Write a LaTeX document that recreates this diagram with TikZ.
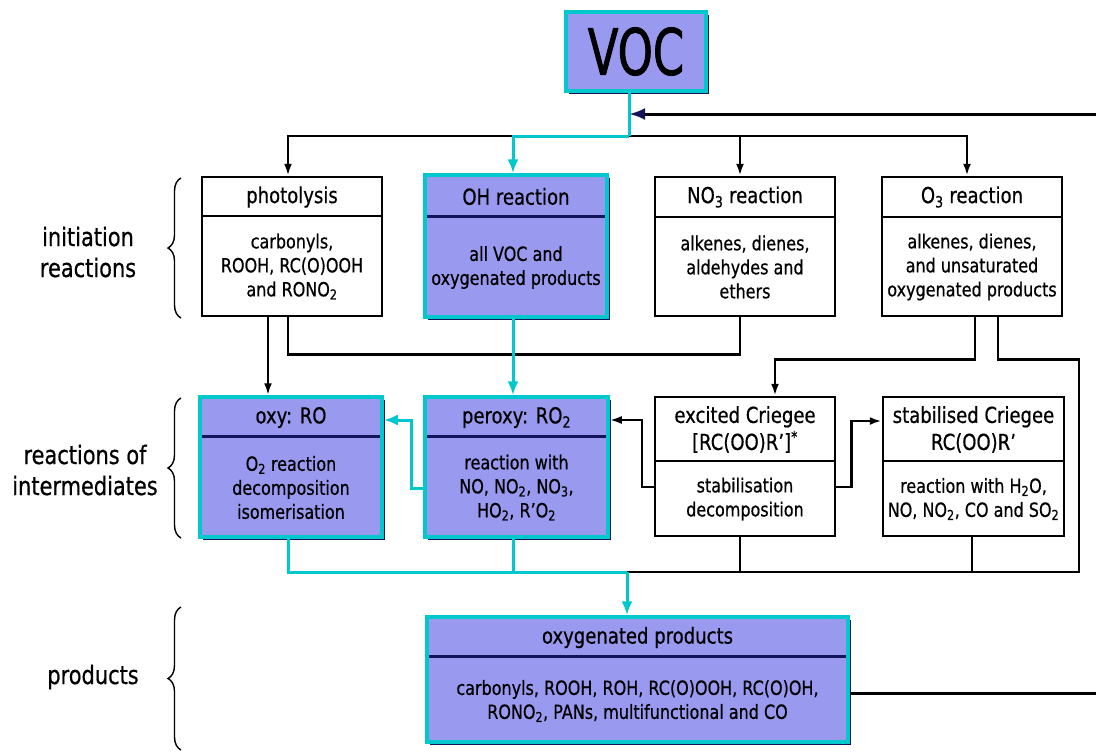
\documentclass[tikz,border=0pt]{standalone}
\usepackage{fontspec}
\setmainfont{DejaVu Sans}[FakeStretch=0.82, FakeBold=0.6]
\newfontfamily\vocfont{DejaVu Sans}[FakeStretch=0.7, FakeBold=1.2]
\usetikzlibrary{arrows.meta, decorations.pathreplacing, shadows}

\definecolor{lav}{RGB}{153,153,240}
\definecolor{turq}{RGB}{0,200,205}
\definecolor{navy}{RGB}{20,20,90}

\begin{document}
\begin{tikzpicture}[%
        x = 1pt, y = -1pt,
        > = {Latex[length=12pt, width=8pt]},
        line width = 2.5pt,
        plainbox/.style = {draw, fill=white, line width=2.5pt, inner sep=0pt},
        colbox/.style = {draw=turq, fill=lav, line width=3.5pt, inner sep=0pt,
            drop shadow={shadow xshift=2.5pt, shadow yshift=-2.5pt, fill=navy, opacity=1}},
        boxhead/.style = {font=\fontsize{22}{27}\selectfont, align=center, inner sep=0pt},
        boxbody/.style = {font=\fontsize{19.5}{24}\selectfont, align=center, inner sep=0pt},
        sidelabel/.style = {font=\fontsize{25.5}{31}\selectfont, align=center},
        tealline/.style = {draw=turq, line width=3pt},
        tealarrow/.style = {-{Latex[length=14pt, width=11pt]}},
        divide/.style = {draw=navy, line width=3.5pt},
        bracket/.style = {decorate, decoration={brace, amplitude=13pt}, line width=1.4pt}
    ]

    \useasboundingbox (0,0) rectangle (1096,755);
    \clip (0,0) rectangle (1096,755);

    % The VOC box on top.
    \node[colbox, minimum width=140pt, minimum height=79pt,
        font=\vocfont\fontsize{64}{64}\selectfont] (voc) at (636,51.5) {VOC};

    % Initiation reactions.
    \node[plainbox, minimum width=180pt, minimum height=139pt] (phot) at (292,246.5) {};
    \node[boxhead] (phot-t) at (292,197) {photolysis};
    \node[boxbody] (phot-b) at (292,266.5) {carbonyls,\\ROOH, RC(O)OOH\\and RONO\textsubscript{2}};
    \draw ([yshift=-40pt]phot.north west) -- ([yshift=-40pt]phot.north east);

    \node[colbox, minimum width=182pt, minimum height=142pt] (oh) at (516,246) {};
    \node[boxhead] (oh-t) at (516,196.5) {OH reaction};
    \node[boxbody] (oh-b) at (516,267.5) {all VOC and\\oxygenated products};
    \draw[divide] ([xshift=4pt, yshift=-43pt]oh.north west) -- ([xshift=-4pt, yshift=-43pt]oh.north east);

    \node[plainbox, minimum width=180pt, minimum height=139pt] (no3) at (745,246.5) {};
    \node[boxhead] (no3-t) at (745,197) {NO\textsubscript{3} reaction};
    \node[boxbody] (no3-b) at (745,267) {alkenes, dienes,\\aldehydes and\\ethers};
    \draw ([yshift=-41pt]no3.north west) -- ([yshift=-41pt]no3.north east);

    \node[plainbox, minimum width=180pt, minimum height=139pt] (o3) at (972,246.5) {};
    \node[boxhead] (o3-t) at (972,197) {O\textsubscript{3} reaction};
    \node[boxbody] (o3-b) at (972,267) {alkenes, dienes,\\and unsaturated\\oxygenated products};
    \draw ([yshift=-41pt]o3.north west) -- ([yshift=-41pt]o3.north east);

    % Reactions of intermediates.
    \node[colbox, minimum width=182pt, minimum height=140pt] (ro) at (291,467) {};
    \node[boxhead] (ro-t) at (291,417.5) {oxy: RO};
    \node[boxbody] (ro-b) at (291,487.5) {O\textsubscript{2} reaction\\decomposition\\isomerisation};
    \draw[divide] ([xshift=4pt, yshift=-41pt]ro.north west) -- ([xshift=-4pt, yshift=-41pt]ro.north east);

    \node[colbox, minimum width=183pt, minimum height=140pt] (ro2) at (516.5,467) {};
    \node[boxhead] (ro2-t) at (516.5,417.5) {peroxy: RO\textsubscript{2}};
    \node[boxbody] (ro2-b) at (516.5,487.5) {reaction with\\NO, NO\textsubscript{2}, NO\textsubscript{3},\\HO\textsubscript{2}, R'O\textsubscript{2}};
    \draw[divide] ([xshift=4pt, yshift=-41pt]ro2.north west) -- ([xshift=-4pt, yshift=-41pt]ro2.north east);

    \node[plainbox, minimum width=180pt, minimum height=139pt] (exc) at (745,466.5) {};
    \node[boxhead] (exc-t) at (745,429.5) {excited Criegee\\{}[RC(OO)R']\textsuperscript{*}};
    \node[boxbody] (exc-b) at (745,499) {stabilisation\\decomposition};
    \draw ([yshift=-65pt]exc.north west) -- ([yshift=-65pt]exc.north east);

    \node[plainbox, minimum width=181pt, minimum height=139pt] (stab) at (973.5,466.5) {};
    \node[boxhead] (stab-t) at (973.5,429.5) {stabilised Criegee\\RC(OO)R'};
    \node[boxbody] (stab-b) at (973.5,499) {reaction with H\textsubscript{2}O,\\NO, NO\textsubscript{2}, CO and SO\textsubscript{2}};
    \draw ([yshift=-65pt]stab.north west) -- ([yshift=-65pt]stab.north east);

    % Products.
    \node[colbox, minimum width=421pt, minimum height=125pt] (prod) at (637.5,679.5) {};
    \node[boxhead] (prod-t) at (637.5,637.5) {oxygenated products};
    \node[boxbody] (prod-b) at (637.5,701) {carbonyls, ROOH, ROH, RC(O)OOH, RC(O)OH,\\RONO\textsubscript{2}, PANs, multifunctional and CO};
    \draw[divide] ([xshift=4pt, yshift=-41pt]prod.north west) -- ([xshift=-4pt, yshift=-41pt]prod.north east);

    % Junction points.
    \coordinate (split) at (629,136);
    \coordinate (fbin) at (629,114);
    \coordinate (merge) at (627,572);

    % From VOC to the initiation reactions.
    \draw[->] (split) -| ([xshift=-4pt]phot.north);
    \draw[->] (split) -| ([xshift=-5pt]no3.north);
    \draw[->] (split) -| ([xshift=-5pt]o3.north);
    \draw[tealline] ([xshift=-7pt]voc.south) -- (split);
    \draw[tealline, tealarrow] (split) -| ([xshift=-3pt]oh.north);

    % Products fed back to the start.
    \draw[-{Latex[length=16pt, width=12pt, color=navy]}, line width=3pt]
        ([yshift=-13.5pt]prod.east) -- ++(270,0) |- (fbin);

    % From the initiation reactions to the intermediates.
    \draw[->] ([xshift=-24pt]phot.south) -- ([xshift=-23pt]ro.north);
    \draw ([xshift=-4pt]phot.south) -- ++(0,37) -| ([xshift=-5pt]no3.south);
    \draw[tealline, tealarrow] ([xshift=-3pt]oh.south) -- ([xshift=-3.5pt]ro2.north);
    \draw[->] ([xshift=3pt]o3.south) -- ++(0,42) -| ([xshift=30pt]exc.north);
    \draw ([xshift=26pt]o3.south) -- ++(0,42) -| (1079,572) -- (merge);

    % Between the intermediates.
    \draw[tealline, tealarrow] ([yshift=-21pt]ro2.west) -- ++(-12,0) |- ([yshift=47pt]ro.east);
    \draw[->] ([yshift=-20.5pt]exc.west) -- ++(-12,0) |- ([yshift=47pt]ro2.east);
    \draw[->] ([yshift=-20.5pt]exc.east) -- ++(15,0) |- ([yshift=45.5pt]stab.west);

    % From the intermediates to the products.
    \draw ([xshift=-5pt]exc.south) -- ([xshift=-5pt]exc.south |- merge);
    \draw ([xshift=-1.5pt]stab.south) -- ([xshift=-1.5pt]stab.south |- merge);
    \draw[tealline] ([xshift=-3pt]ro.south) |- (merge);
    \draw[tealline] ([xshift=-3.5pt]ro2.south) -- ([xshift=-3.5pt]ro2.south |- merge);
    \draw[tealline, tealarrow] (merge) -- (merge |- prod.north);

    % Labels of the three stages.
    \node[sidelabel] (initl) at (88,252) {initiation\\reactions};
    \node[sidelabel] (interl) at (85,470) {reactions of\\intermediates};
    \node[sidelabel] (prodl) at (93,677) {products};
    \draw[bracket] (181,318) -- (181,178);
    \draw[bracket] (181,538) -- (181,398);
    \draw[bracket] (181,750) -- (181,607);
\end{tikzpicture}
\end{document}
